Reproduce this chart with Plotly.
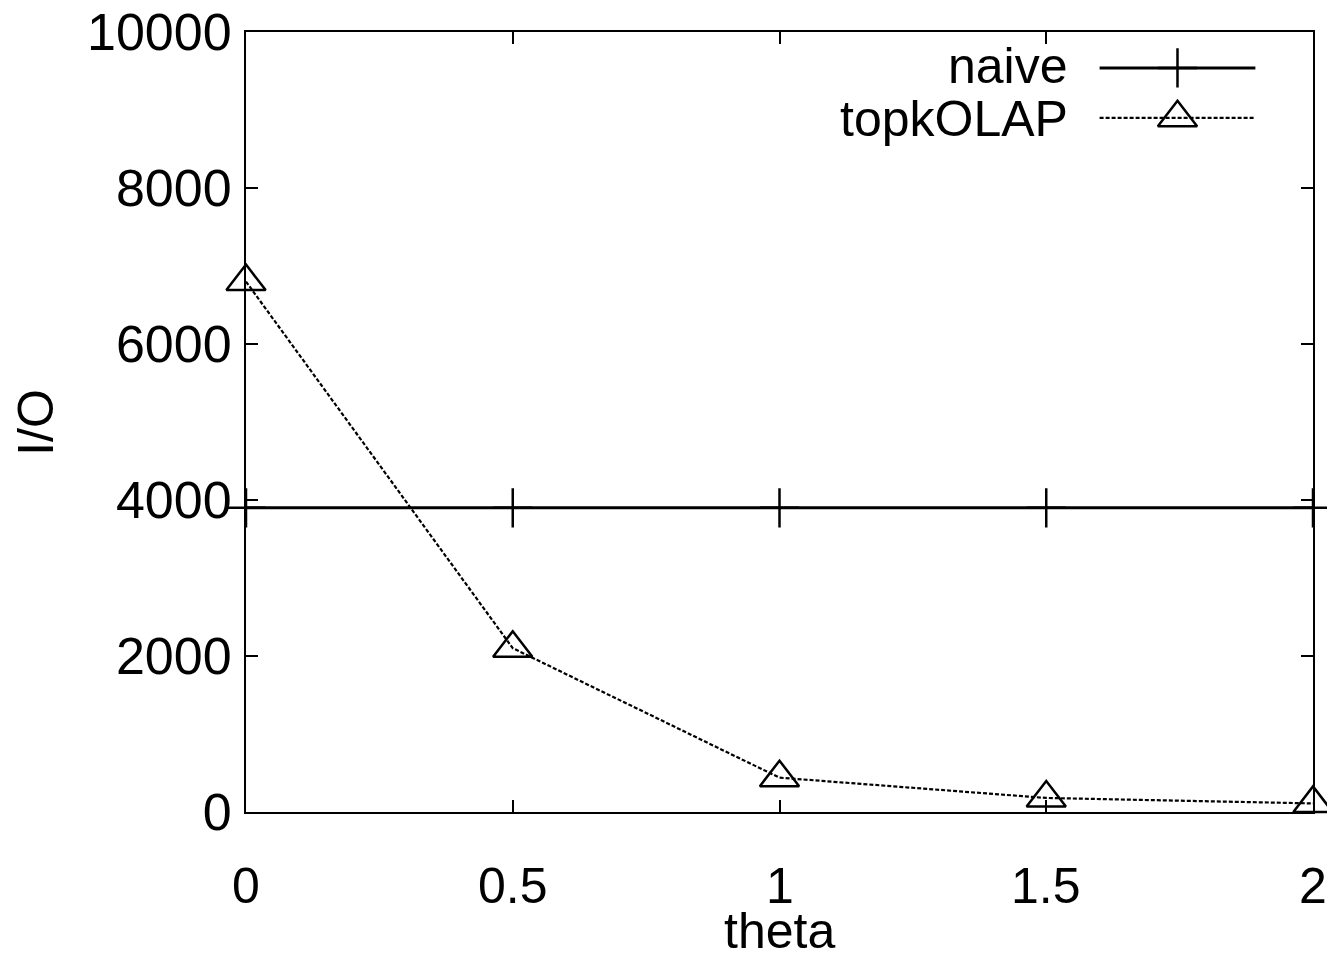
import plotly.graph_objects as go

theta = [0, 0.5, 1, 1.5, 2]
naive_io = [3900, 3900, 3900, 3900, 3900]
topkolap_io = [6800, 2100, 440, 180, 110]

x_ticks = [0, 0.5, 1, 1.5, 2]
x_tick_labels = ["0", "0.5", "1", "1.5", "2"]
y_ticks = [0, 2000, 4000, 6000, 8000, 10000]
y_tick_labels = ["0", "2000", "4000", "6000", "8000", "10000"]
x_title = "theta"
y_title = "I/O"

FONT = "Liberation Sans, Arial, sans-serif"
FS = 50

fig = go.Figure()

fig.add_trace(go.Scatter(
    x=theta, y=naive_io, mode="lines+markers", name="naive",
    line=dict(color="black", width=3),
    marker=dict(symbol="cross-thin", size=28, color="black",
                line=dict(color="black", width=2.5)),
    cliponaxis=False, showlegend=False))

fig.add_trace(go.Scatter(
    x=theta, y=topkolap_io, mode="lines+markers", name="topkOLAP",
    line=dict(color="black", width=2.2, dash="4px,2px"),
    marker=dict(symbol="triangle-up-open", size=34, color="black",
                line=dict(color="black", width=2.5)),
    cliponaxis=False, showlegend=False))

# custom legend on an overlay axis in [0,1] frame coordinates
fig.add_trace(go.Scatter(
    x=[0.800, 0.946], y=[0.954, 0.954], mode="lines", xaxis="x2", yaxis="y2",
    line=dict(color="black", width=3), showlegend=False, hoverinfo="skip"))
fig.add_trace(go.Scatter(
    x=[0.873], y=[0.954], mode="markers", xaxis="x2", yaxis="y2",
    marker=dict(symbol="cross-thin", size=28, color="black",
                line=dict(color="black", width=2.5)),
    showlegend=False, hoverinfo="skip"))
fig.add_trace(go.Scatter(
    x=[0.800, 0.946], y=[0.890, 0.890], mode="lines", xaxis="x2", yaxis="y2",
    line=dict(color="black", width=2.2, dash="4px,2px"), showlegend=False, hoverinfo="skip"))
fig.add_trace(go.Scatter(
    x=[0.873], y=[0.890], mode="markers", xaxis="x2", yaxis="y2",
    marker=dict(symbol="triangle-up-open", size=34, color="black",
                line=dict(color="black", width=2.5)),
    showlegend=False, hoverinfo="skip"))

for label, yy in [("naive", 0.956), ("topkOLAP", 0.888)]:
    fig.add_annotation(x=0.772, y=yy, xref="x2", yref="y2", text=label,
                       showarrow=False, xanchor="right", yanchor="middle",
                       font=dict(family=FONT, size=FS, color="black"))

# x tick labels placed below the axis at the tick values
for tv, tt in zip(x_ticks, x_tick_labels):
    fig.add_annotation(x=tv, y=-0.036, xref="x", yref="paper", text=tt,
                       showarrow=False, xanchor="center", yanchor="middle",
                       yshift=-46,
                       font=dict(family=FONT, size=FS, color="black"))

# axis titles
fig.add_annotation(x=0.5, y=-0.153, xref="paper", yref="paper", text=x_title,
                   showarrow=False, xanchor="center", yanchor="middle",
                   font=dict(family=FONT, size=FS, color="black"))
fig.add_annotation(x=-0.197, y=0.5, xref="paper", yref="paper", text=y_title,
                   showarrow=False, xanchor="center", yanchor="middle",
                   textangle=-90,
                   font=dict(family=FONT, size=FS, color="black"))

axis_common = dict(
    showline=True, linecolor="black", linewidth=2, mirror="allticks",
    ticks="inside", ticklen=12, tickwidth=2, tickcolor="black",
    showgrid=False, zeroline=False, automargin=False,
    ticklabeloverflow="allow",
)

# the page body adds an 8px margin, so the figure is 8px smaller and offset
fig.update_layout(
    width=1327, height=948,
    margin=dict(l=238, r=22, t=24, b=144),
    paper_bgcolor="white", plot_bgcolor="white",
    font=dict(family=FONT, size=FS, color="black"),
    showlegend=False,
    xaxis=dict(range=[0, 2], tickvals=x_ticks, showticklabels=False,
               **axis_common),
    yaxis=dict(range=[0, 10000], tickvals=y_ticks, ticktext=y_tick_labels,
               tickfont=dict(family=FONT, size=52, color="black"),
               ticklabelstandoff=2, **axis_common),
    xaxis2=dict(range=[0, 1], overlaying="x", visible=False, fixedrange=True),
    yaxis2=dict(range=[0, 1], overlaying="y", visible=False, fixedrange=True),
)

fig.write_html("out.html")
